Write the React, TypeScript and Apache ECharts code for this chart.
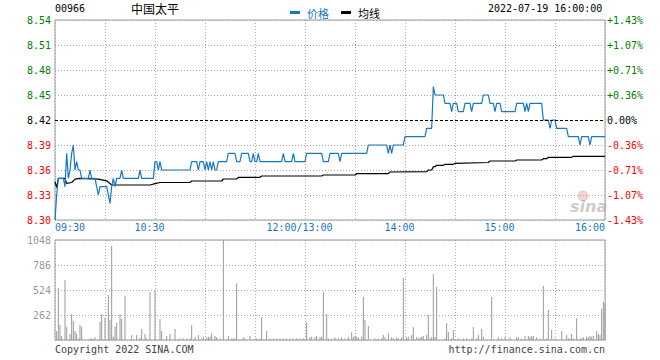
import React, { useEffect, useRef } from "react";
import * as echarts from "echarts";

const MONO = "'DejaVu Sans Mono', 'Liberation Mono', monospace";
const CJK = "'Noto Sans CJK SC', sans-serif";

const stockCode = "00966";
const stockName = "中国太平";
const dateText = "2022-07-19 16:00:00";
const prevClose = 8.42;
const priceMin = 8.3;
const priceMax = 8.54;
const priceStep = 0.03;
const volMax = 1048;
const volStep = 262;
const totalMinutes = 330;

const xTickMinutes = [0, 60, 150, 210, 270, 330];
const xTickLabels = ["09:30", "10:30", "12:00/13:00", "14:00", "15:00", "16:00"];

// [minute from 09:30 (trading minutes), price] — price holds until the next entry
const priceRuns: [number, number][] = [
  [0, 8.3], [1, 8.33], [2, 8.35], [6, 8.34], [7, 8.38], [8, 8.35], [9, 8.36], [10, 8.38], [11, 8.39],
  [12, 8.36], [13, 8.37], [14, 8.36], [16, 8.35], [21, 8.36], [22, 8.35], [25, 8.34], [26, 8.33],
  [27, 8.34], [32, 8.33], [33, 8.32], [34, 8.34], [35, 8.35], [36, 8.34], [37, 8.35], [40, 8.36],
  [41, 8.35], [51, 8.36], [52, 8.35], [60, 8.37], [62, 8.36], [63, 8.37], [64, 8.36], [82, 8.37],
  [86, 8.36], [87, 8.37], [90, 8.36], [91, 8.37], [92, 8.36], [93, 8.37], [94, 8.36], [95, 8.37],
  [96, 8.36], [98, 8.37], [104, 8.38], [109, 8.37], [112, 8.38], [117, 8.37], [119, 8.38],
  [120, 8.37], [122, 8.38], [123, 8.37], [137, 8.38], [138, 8.37], [143, 8.38], [144, 8.37],
  [151, 8.38], [161, 8.37], [165, 8.38], [171, 8.37], [172, 8.38], [188, 8.39], [200, 8.38],
  [201, 8.39], [202, 8.38], [203, 8.39], [210, 8.4], [223, 8.41], [227, 8.46], [228, 8.45],
  [234, 8.44], [238, 8.43], [239, 8.44], [242, 8.43], [246, 8.44], [250, 8.43], [251, 8.44],
  [257, 8.45], [261, 8.44], [264, 8.43], [265, 8.44], [268, 8.43], [277, 8.44], [282, 8.43],
  [283, 8.44], [284, 8.43], [285, 8.44], [293, 8.42], [297, 8.41], [298, 8.42], [301, 8.41],
  [308, 8.4], [315, 8.39], [316, 8.4], [321, 8.39], [322, 8.4],
];

// average price line vertices [minute, price]
const avgPoints: [number, number][] = [
  [0, 8.346], [1, 8.339], [2, 8.35], [6, 8.35], [7, 8.344], [10, 8.345], [12, 8.349], [15, 8.35],
  [26, 8.349], [31, 8.347], [34, 8.342], [57, 8.342], [60, 8.3436], [63, 8.345], [81, 8.345],
  [82, 8.3468], [100, 8.3468], [101, 8.3492], [109, 8.3492], [110, 8.3512], [123, 8.3512],
  [124, 8.3528], [160, 8.3528], [161, 8.354], [180, 8.354], [181, 8.3556], [200, 8.3556],
  [201, 8.3576], [223, 8.358], [224, 8.36], [226, 8.36], [227, 8.364], [228, 8.364],
  [229, 8.3656], [233, 8.3656], [234, 8.3668], [239, 8.3668], [240, 8.368], [260, 8.369],
  [261, 8.3708], [276, 8.3708], [277, 8.372], [292, 8.372], [293, 8.3736], [295, 8.3736],
  [296, 8.3752], [310, 8.3752], [311, 8.3764], [330, 8.3764],
];

// volume bars [minute, volume]
const volumes: [number, number][] = [
  [1, 94], [2, 548], [3, 157], [4, 42], [6, 629], [7, 136], [9, 63], [10, 269], [11, 199], [12, 94],
  [13, 63], [14, 17], [15, 157], [16, 136], [21, 17], [22, 17], [23, 10], [24, 28], [27, 192],
  [28, 269], [30, 234], [32, 472], [33, 210], [34, 989], [35, 35], [36, 140], [37, 182], [39, 269],
  [40, 220], [42, 461], [46, 52], [49, 52], [51, 24], [52, 115], [54, 63], [55, 17], [57, 500],
  [60, 520], [63, 220], [64, 94], [67, 42], [69, 63], [72, 115], [75, 17], [77, 17], [79, 17],
  [81, 17], [82, 157], [84, 35], [86, 52], [88, 17], [89, 35], [91, 28], [92, 35], [93, 35],
  [94, 70], [96, 42], [97, 28], [99, 17], [101, 1048], [104, 42], [106, 17], [107, 17], [108, 17],
  [109, 594], [113, 28], [114, 17], [117, 42], [120, 17], [121, 17], [123, 17], [124, 241],
  [127, 94], [129, 17], [131, 17], [133, 17], [135, 17], [137, 17], [139, 17], [141, 17],
  [143, 17], [145, 17], [147, 17], [149, 17], [151, 185], [153, 28], [154, 35], [156, 28],
  [157, 42], [159, 28], [160, 35], [161, 500], [163, 272], [164, 17], [166, 17], [168, 28],
  [170, 17], [172, 28], [174, 17], [176, 35], [178, 80], [179, 35], [180, 42], [181, 35],
  [182, 28], [184, 35], [185, 454], [186, 210], [188, 147], [192, 17], [194, 17], [196, 17],
  [197, 52], [198, 28], [200, 70], [202, 28], [203, 17], [205, 28], [206, 17], [208, 28],
  [209, 646], [211, 28], [212, 35], [214, 52], [215, 136], [217, 28], [218, 17], [219, 28],
  [220, 35], [221, 42], [223, 52], [224, 262], [225, 17], [226, 28], [227, 688], [228, 35],
  [229, 555], [234, 17], [235, 178], [236, 84], [238, 17], [239, 105], [242, 17], [245, 17],
  [247, 17], [250, 17], [251, 136], [253, 17], [254, 52], [256, 115], [257, 35], [262, 451],
  [266, 35], [268, 17], [270, 28], [273, 28], [277, 28], [278, 28], [280, 17], [282, 42],
  [284, 42], [285, 28], [286, 42], [287, 42], [289, 28], [291, 17], [293, 566], [295, 17],
  [296, 314], [298, 105], [300, 17], [304, 94], [307, 52], [308, 17], [309, 17], [310, 63],
  [311, 17], [313, 227], [315, 17], [316, 17], [317, 28], [319, 35], [320, 28], [321, 42],
  [322, 35], [323, 42], [325, 94], [326, 63], [327, 52], [328, 325], [329, 398], [330, 380],
];

const PRICE_BLUE = "#1479c4";
const UP = "#008000";
const DOWN = "#ff0000";
const GRID_GRAY = "#aaaaaa";
const BORDER_GRAY = "#999999";

function priceColor(v: number): string {
  const c = Math.round(v * 100);
  const p = Math.round(prevClose * 100);
  if (c > p) return UP;
  if (c < p) return DOWN;
  return "#000000";
}

export default function App() {
  const ref = useRef<HTMLDivElement>(null);

  useEffect(() => {
    document.body.style.margin = "0";
    if (!ref.current) return;
    const chart = echarts.init(ref.current, null, { renderer: "svg" });

    const priceData: [number, number][] = [];
    let k = 0;
    for (let m = 0; m <= totalMinutes; m++) {
      while (k + 1 < priceRuns.length && priceRuns[k + 1][0] <= m) k++;
      priceData.push([m, priceRuns[k][1]]);
    }

    const tickCount = Math.round((priceMax - priceMin) / priceStep) + 1;
    const prevIdx = Math.round((prevClose - priceMin) / priceStep);
    const splitColors: string[] = [];
    for (let i = 0; i < tickCount; i++) splitColors.push(i === prevIdx ? "rgba(0,0,0,0)" : GRID_GRAY);

    const dotted = { color: GRID_GRAY, type: [1, 2], width: 1 };

    const option: any = {
      animation: false,
      backgroundColor: "#ffffff",
      textStyle: { fontFamily: MONO },
      legend: {
        left: 285,
        top: 2,
        icon: "rect",
        itemWidth: 10,
        itemHeight: 3,
        itemGap: 12,
        selectedMode: false,
        textStyle: { fontFamily: CJK, fontSize: 11, padding: [0, 0, 0, 2] },
        data: [
          { name: "价格", textStyle: { color: PRICE_BLUE } },
          { name: "均线", textStyle: { color: "#000000" } },
        ],
      },
      grid: [
        { left: 55, right: 55, top: 20, height: 200, show: true, borderColor: BORDER_GRAY, borderWidth: 1, backgroundColor: "transparent" },
        { left: 55, right: 55, top: 240, height: 100, show: true, borderColor: BORDER_GRAY, borderWidth: 1, backgroundColor: "transparent" },
      ],
      xAxis: [
        {
          type: "value",
          gridIndex: 0,
          min: 0,
          max: totalMinutes,
          interval: 30,
          axisLine: { show: false },
          axisTick: { show: false },
          splitLine: { show: true, lineStyle: dotted },
          axisLabel: {
            show: true,
            margin: 2,
            showMinLabel: true,
            showMaxLabel: true,
            hideOverlap: false,
            fontFamily: MONO,
            fontSize: 10,
            color: PRICE_BLUE,
            formatter: (v: number) => {
              const i = xTickMinutes.indexOf(Math.round(v));
              if (i < 0) return "";
              const lab = xTickLabels[i];
              if (i === 0) return "{l|" + lab + "}";
              if (i === xTickMinutes.length - 1) return "{r|" + lab + "}";
              return "{c|" + lab + "}";
            },
            rich: {
              l: { padding: [0, 0, 0, 30], color: PRICE_BLUE, fontFamily: MONO, fontSize: 10 },
              r: { padding: [0, 30, 0, 0], color: PRICE_BLUE, fontFamily: MONO, fontSize: 10 },
              c: { padding: [0, 11, 0, 0], color: PRICE_BLUE, fontFamily: MONO, fontSize: 10 },
            },
          },
        },
        {
          type: "value",
          gridIndex: 1,
          min: 0,
          max: totalMinutes,
          interval: 30,
          axisLine: { show: false },
          axisTick: { show: false },
          axisLabel: { show: false },
          splitLine: { show: true, lineStyle: dotted },
        },
      ],
      yAxis: [
        {
          type: "value",
          gridIndex: 0,
          position: "left",
          min: priceMin,
          max: priceMax,
          interval: priceStep,
          axisLine: { show: false },
          axisTick: { show: false },
          splitLine: { show: true, lineStyle: { ...dotted, color: splitColors } },
          axisLabel: {
            margin: 4,
            showMinLabel: true,
            showMaxLabel: true,
            fontFamily: MONO,
            fontSize: 10,
            verticalAlign: "middle",
            padding: [0, 0, 5, 0],
            formatter: (v: number) => v.toFixed(2),
            color: (v: any) => priceColor(Number(v)),
          },
        },
        {
          type: "value",
          gridIndex: 0,
          position: "right",
          min: priceMin,
          max: priceMax,
          interval: priceStep,
          axisLine: { show: false },
          axisTick: { show: false },
          splitLine: { show: false },
          axisLabel: {
            margin: 2,
            showMinLabel: true,
            showMaxLabel: true,
            fontFamily: MONO,
            fontSize: 10,
            verticalAlign: "middle",
            padding: [0, 0, 5, 0],
            formatter: (v: number) => {
              const pct = ((v - prevClose) / prevClose) * 100;
              const r = Math.round(pct * 100) / 100;
              if (Math.abs(r) < 0.005) return "0.00%";
              return (r > 0 ? "+" : "") + r.toFixed(2) + "%";
            },
            color: (v: any) => priceColor(Number(v)),
          },
        },
        {
          type: "value",
          gridIndex: 1,
          position: "left",
          min: 0,
          max: volMax,
          interval: volStep,
          axisLine: { show: false },
          axisTick: { show: false },
          splitLine: { show: true, lineStyle: dotted },
          axisLabel: {
            margin: 4,
            showMaxLabel: true,
            fontFamily: MONO,
            fontSize: 10,
            color: "#999999",
            verticalAlign: "middle",
            padding: [0, 0, 4, 0],
            formatter: (v: number) => (v === 0 ? "" : String(Math.round(v))),
          },
        },
      ],
      series: [
        {
          name: "价格",
          type: "line",
          xAxisIndex: 0,
          yAxisIndex: 0,
          data: priceData,
          showSymbol: false,
          symbol: "none",
          color: PRICE_BLUE,
          lineStyle: { color: PRICE_BLUE, width: 1.2 },
          z: 4,
          markLine: {
            silent: true,
            symbol: ["none", "none"],
            label: { show: false },
            lineStyle: { color: "#000000", type: [3, 2], width: 1 },
            data: [{ yAxis: prevClose }],
          },
        },
        {
          name: "均线",
          type: "line",
          xAxisIndex: 0,
          yAxisIndex: 0,
          data: avgPoints,
          showSymbol: false,
          symbol: "none",
          color: "#000000",
          lineStyle: { color: "#000000", width: 1.2 },
          z: 3,
        },
        {
          name: "成交量",
          type: "bar",
          xAxisIndex: 1,
          yAxisIndex: 2,
          data: volumes,
          barWidth: 1,
          itemStyle: { color: "#999999" },
        },
      ],
      graphic: [
        { type: "text", left: 55, top: 3, style: { text: stockCode, font: "10px " + MONO, fill: "#000" } },
        { type: "text", left: 131, top: 2, style: { text: stockName, font: "12px " + CJK, fill: "#000" } },
        { type: "text", left: 488, top: 3, style: { text: dateText, font: "10px " + MONO, fill: "#000" } },
        { type: "text", left: 55, top: 344, style: { text: "Copyright 2022 SINA.COM", font: "10px " + MONO, fill: "#444" } },
        { type: "text", right: 55, top: 344, style: { text: "http://finance.sina.com.cn", font: "10px " + MONO, fill: "#444" } },
        { type: "circle", shape: { cx: 583, cy: 196, r: 5 }, style: { fill: "rgba(225,110,110,0.3)", stroke: "rgba(180,180,180,0.5)", lineWidth: 1 }, z: 1 },
        { type: "text", left: 570, top: 198, style: { text: "sina", font: "italic bold 16px 'DejaVu Sans', sans-serif", fill: "rgba(170,170,170,0.6)" }, z: 1 },
      ],
    };

    chart.setOption(option);
    return () => chart.dispose();
  }, []);

  return <div ref={ref} style={{ position: "absolute", left: 0, top: 0, width: 660, height: 360 }} />;
}
